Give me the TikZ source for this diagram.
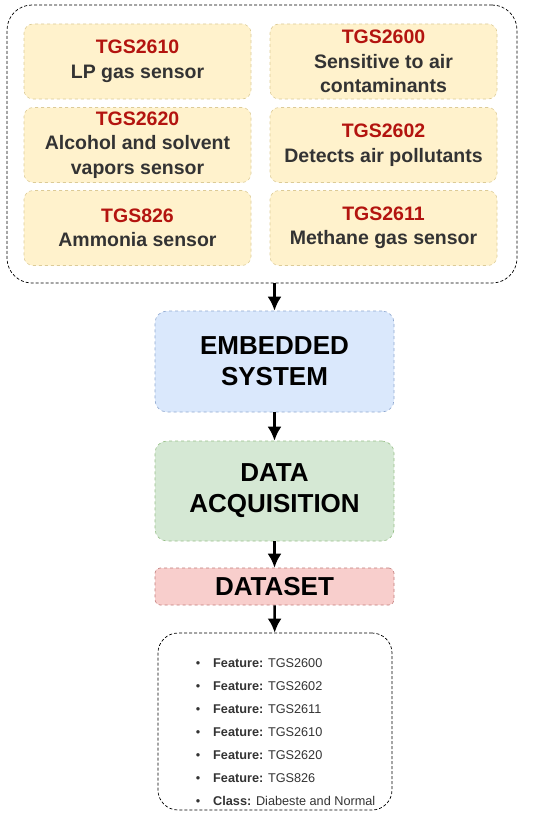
\documentclass[tikz,border=0pt]{standalone}
\usepackage{fontspec}
\setmainfont{Liberation Sans}
\usepackage{tikz}
\usetikzlibrary{positioning, arrows.meta}

\definecolor{tgsred}{HTML}{B3140F}
\definecolor{desctext}{HTML}{333333}
\definecolor{sensorfill}{HTML}{FFF2CC}
\definecolor{sensorline}{HTML}{DCCB97}
\definecolor{embfill}{HTML}{DAE8FC}
\definecolor{embline}{HTML}{8FA8D0}
\definecolor{acqfill}{HTML}{D5E8D4}
\definecolor{acqline}{HTML}{97BF88}
\definecolor{setfill}{HTML}{F8CECC}
\definecolor{setline}{HTML}{C07A78}

\tikzset{
  sensorbox/.style={draw=sensorline, fill=sensorfill, dashed, line width=0.6pt,
    rounded corners=9pt, minimum width=227pt, minimum height=75pt, inner sep=0pt,
    align=center, text=desctext, font=\fontsize{19.5}{24.5}\selectfont\bfseries},
  stagebox/.style={dashed, line width=0.6pt, rounded corners=12pt,
    minimum width=239pt, inner sep=0pt, align=center,
    font=\fontsize{26}{31}\selectfont\bfseries},
  listfont/.style={font=\fontsize{12.7}{15}\selectfont, text=desctext, inner sep=0pt},
  flow/.style={->, line width=2.6pt},
}

\begin{document}
\begin{tikzpicture}[x=1pt, y=-1pt, >={Latex[length=14pt, width=14pt]}]
  \useasboundingbox (0,0) rectangle (550,816);

  % Sensor group frame
  \node[draw, dashed, line width=0.7pt, dash pattern=on 3pt off 2pt, rounded corners=25pt,
    minimum width=510pt, minimum height=278pt, inner sep=0pt] (sensors) at (262,144) {};

  % Sensor boxes (two columns, three rows)
  \foreach \x/\y/\name/\code/\desc in {
      137.5/61.5/tgsA/TGS2610/{LP gas sensor},
      383.5/61.5/tgsB/TGS2600/{Sensitive to air\\contaminants},
      137.5/145/tgsC/TGS2620/{Alcohol and solvent\\vapors sensor},
      383.5/145/tgsD/TGS2602/{Detects air pollutants},
      137.5/228/tgsE/TGS826/{Ammonia sensor},
      383.5/228/tgsF/TGS2611/{Methane gas sensor}} {
    \node[sensorbox] (\name) at (\x,\y) {{\color{tgsred}\code}\\\desc};
  }

  % Processing stages
  \node[stagebox, draw=embline, fill=embfill, minimum height=101pt]
    (embedded) at (274.5,361.5) {EMBEDDED\\SYSTEM};
  \node[stagebox, draw=acqline, fill=acqfill, minimum height=100pt]
    (acquisition) at (274.5,491) {DATA\\ACQUISITION};
  \node[stagebox, draw=setline, fill=setfill, minimum height=37pt, rounded corners=5pt]
    (dataset) at (274.5,586.5) {DATASET};

  % Dataset contents
  \node[draw, dashed, line width=0.7pt, dash pattern=on 3pt off 2pt, rounded corners=20pt,
    minimum width=234pt, minimum height=177pt, inner sep=0pt] (contents) at (275,721.5) {};
  \foreach \k/\label/\value in {0/Feature/TGS2600, 1/Feature/TGS2602,
      2/Feature/TGS2611, 3/Feature/TGS2610, 4/Feature/TGS2620,
      5/Feature/TGS826, 6/Class/Diabeste and Normal} {
    \node[listfont, anchor=base] (bullet\k) at (198,667.5+23*\k) {\textbullet};
    \node[listfont, anchor=base west] (item\k) at (213,667.5+23*\k) {\textbf{\label:} \value};
  }

  % Arrows
  \draw[flow] (sensors.south -| embedded.north) -- (embedded.north);
  \draw[flow] (embedded) -- (acquisition);
  \draw[flow] (acquisition) -- (dataset);
  \draw[flow] (dataset) -- (contents);
\end{tikzpicture}
\end{document}
